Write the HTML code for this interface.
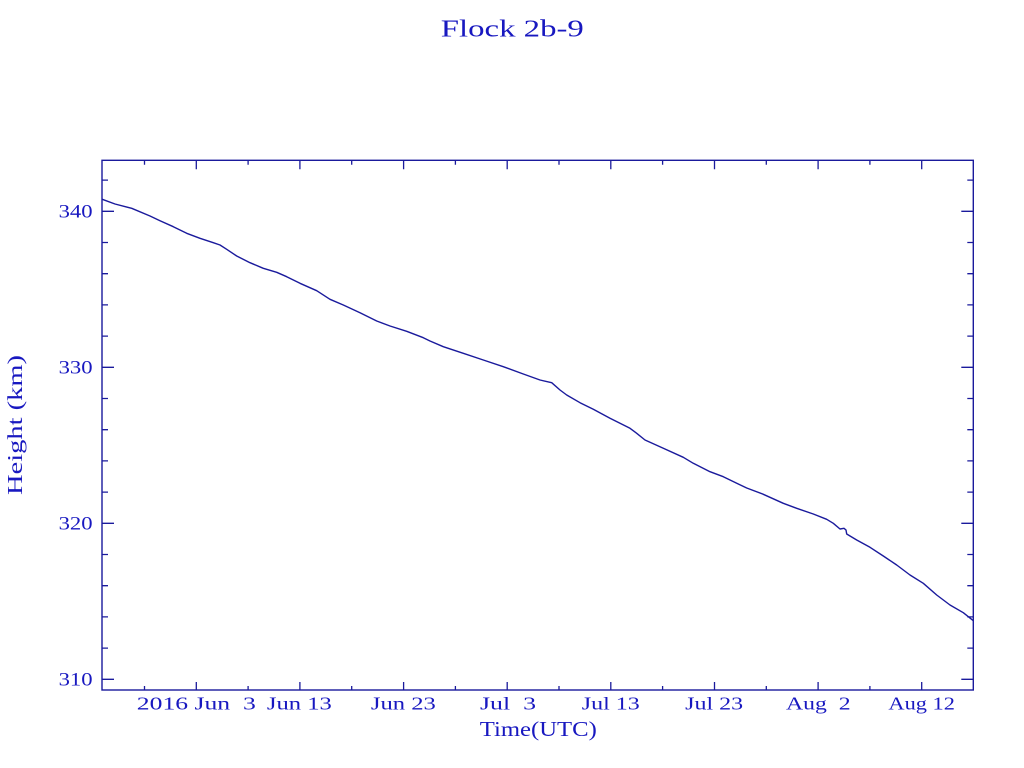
<!DOCTYPE html>
<html>
<head>
<meta charset="utf-8">
<style>
html,body{margin:0;padding:0;background:#ffffff;}
svg{display:block;}
text{font-family:"Liberation Serif","DejaVu Serif",serif;fill:#1818c0;}
</style>
</head>
<body>
<svg width="1024" height="768" viewBox="0 0 1024 768" xmlns="http://www.w3.org/2000/svg">
<rect x="0" y="0" width="1024" height="768" fill="#ffffff"/>

<!-- Title -->
<text x="512.3" y="36.7" font-size="24" text-anchor="middle" textLength="143" lengthAdjust="spacingAndGlyphs">Flock 2b-9</text>

<!-- Frame -->
<rect x="102" y="160.3" width="871.3" height="529.7" fill="none" stroke="#1a1a9c" stroke-width="1.4"/>

<g stroke="#1a1a9c" stroke-width="1.3" fill="none">
<!-- Y ticks left (major 12, minor 6) -->
<path d="M102 679.3h12 M102 648.1h6 M102 616.9h6 M102 585.7h6 M102 554.5h6 M102 523.3h12 M102 492.1h6 M102 460.9h6 M102 429.7h6 M102 398.5h6 M102 367.3h12 M102 336.1h6 M102 304.9h6 M102 273.7h6 M102 242.5h6 M102 211.3h12 M102 180.1h6"/>
<!-- Y ticks right -->
<path d="M973.3 679.3h-12 M973.3 648.1h-6 M973.3 616.9h-6 M973.3 585.7h-6 M973.3 554.5h-6 M973.3 523.3h-12 M973.3 492.1h-6 M973.3 460.9h-6 M973.3 429.7h-6 M973.3 398.5h-6 M973.3 367.3h-12 M973.3 336.1h-6 M973.3 304.9h-6 M973.3 273.7h-6 M973.3 242.5h-6 M973.3 211.3h-12 M973.3 180.1h-6"/>
<!-- X ticks bottom -->
<path d="M144.5 690v-4 M196.3 690v-8 M248.1 690v-4 M299.9 690v-8 M351.7 690v-4 M403.6 690v-8 M455.4 690v-4 M507.2 690v-8 M559 690v-4 M610.8 690v-8 M662.6 690v-4 M714.5 690v-8 M766.3 690v-4 M818.1 690v-8 M869.9 690v-4 M921.7 690v-8"/>
<!-- X ticks top -->
<path d="M144.5 160.3v4.5 M196.3 160.3v9 M248.1 160.3v4.5 M299.9 160.3v9 M351.7 160.3v4.5 M403.6 160.3v9 M455.4 160.3v4.5 M507.2 160.3v9 M559 160.3v4.5 M610.8 160.3v9 M662.6 160.3v4.5 M714.5 160.3v9 M766.3 160.3v4.5 M818.1 160.3v9 M869.9 160.3v4.5 M921.7 160.3v9"/>
</g>

<!-- Y labels -->
<g font-size="19" text-anchor="end">
<text x="92.6" y="217.5" textLength="34" lengthAdjust="spacingAndGlyphs">340</text>
<text x="92.6" y="373.5" textLength="34" lengthAdjust="spacingAndGlyphs">330</text>
<text x="92.6" y="529.5" textLength="34" lengthAdjust="spacingAndGlyphs">320</text>
<text x="92.6" y="685.5" textLength="34" lengthAdjust="spacingAndGlyphs">310</text>
</g>

<!-- X labels -->
<g font-size="18" text-anchor="middle">
<text x="196.3" y="709.5" textLength="119" lengthAdjust="spacingAndGlyphs" xml:space="preserve">2016 Jun  3</text>
<text x="299.4" y="709.5" textLength="65" lengthAdjust="spacingAndGlyphs">Jun 13</text>
<text x="403.4" y="709.5" textLength="65" lengthAdjust="spacingAndGlyphs">Jun 23</text>
<text x="508" y="709.5" textLength="56" lengthAdjust="spacingAndGlyphs" xml:space="preserve">Jul  3</text>
<text x="610.8" y="709.5" textLength="58" lengthAdjust="spacingAndGlyphs">Jul 13</text>
<text x="714.2" y="709.5" textLength="58" lengthAdjust="spacingAndGlyphs">Jul 23</text>
<text x="818.3" y="709.5" textLength="64.5" lengthAdjust="spacingAndGlyphs" xml:space="preserve">Aug  2</text>
<text x="921.7" y="709.5" textLength="66.5" lengthAdjust="spacingAndGlyphs">Aug 12</text>
</g>

<!-- Axis titles -->
<text x="538.3" y="736" font-size="21" text-anchor="middle" textLength="117" lengthAdjust="spacingAndGlyphs">Time(UTC)</text>
<text transform="translate(22,425) rotate(-90)" x="0" y="0" font-size="21" text-anchor="middle" textLength="140" lengthAdjust="spacingAndGlyphs">Height (km)</text>

<!-- Data curve -->
<polyline fill="none" stroke="#1a1a9c" stroke-width="1.4" stroke-linejoin="round" points="
102.3,199.3 115,204 131.7,208.3 150,216 160,220.7 173.3,226.7 186.7,233.3 200,238.3 213.3,242.7 220,245 226.7,249.3 236.7,256 250,262.7 263.3,268.3 276.7,272.3 286.7,276.7 300,283.3 316.7,290.7 330,299.3 343.3,305 360,312.7 376.7,321 390,326 406.7,331.3 423.3,337.7 430,341 443.3,346.7 463.3,353.3 483.3,360 503.3,366.7 523.3,374 540,380 551.7,382.7 560,390 566.7,395 580,402.7 593.3,409.3 610,418.3 630,428.3 636.7,433.3 645,440 663.3,448.3 683.3,457.3 693.3,463.3 710,471.7 723.3,476.7 738.3,484 746.7,488 763.3,494.3 783.3,503.3 796.7,508.3 813.3,514 826.7,519.3 833.3,523.3 840,529 844,528.3 846,530 846.7,534 856.7,540 870,547.3 883.3,556 896.7,565 910,575 923.3,583.3 936.7,595 950,605 963.3,612.7 973.3,620.7"/>
</svg>
</body>
</html>
